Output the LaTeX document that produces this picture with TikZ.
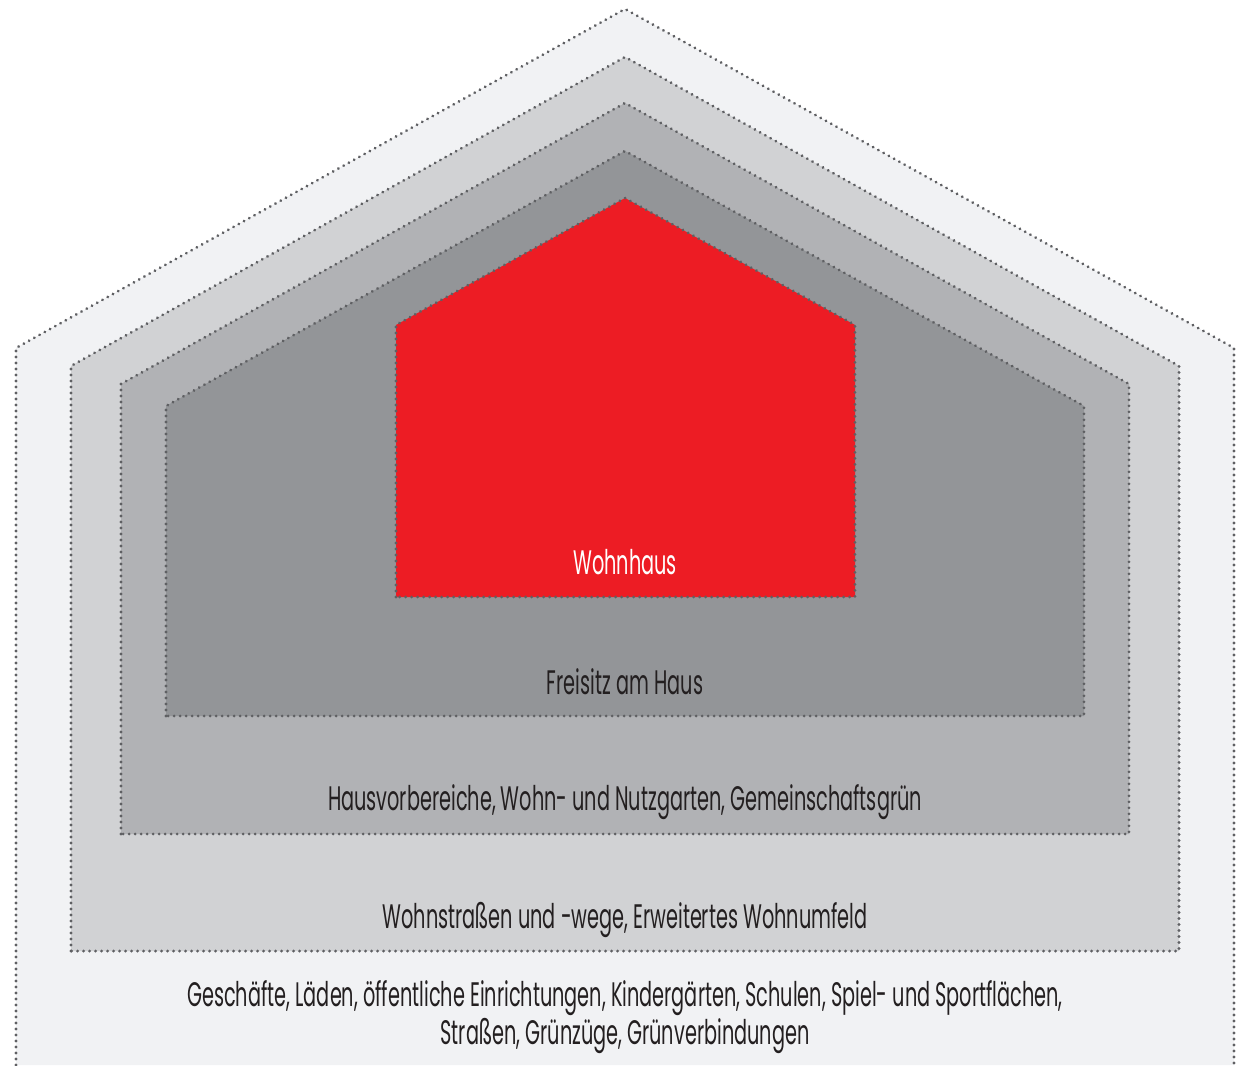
\documentclass[tikz,border=0pt]{standalone}
\usepackage{fontspec}
\usetikzlibrary{decorations.markings}
\setmainfont[FakeStretch=0.567]{Poppins}
\definecolor{zoneA}{HTML}{F1F2F4}
\definecolor{zoneB}{HTML}{D1D2D4}
\definecolor{zoneC}{HTML}{B1B2B5}
\definecolor{zoneD}{HTML}{939598}
\definecolor{houseRed}{HTML}{ED1C24}
\definecolor{dotLine}{HTML}{5F6063}
\definecolor{labelInk}{HTML}{231F20}
\tikzset{
  dotted border/.style={postaction={decorate, decoration={markings,
    mark=between positions 0 and 1 step 6pt with {\fill[dotLine] (0,0) circle (1.55pt);}}}},
  label/.style={text=labelInk, font=\fontsize{34}{38}\selectfont, inner sep=0pt,
    anchor=base},
}
\begin{document}
\begin{tikzpicture}[x=1pt,y=-1pt]
  \useasboundingbox (0,0) rectangle (1238,1065);
  % outermost zone: open at the bottom
  \fill[zoneA] (16,1065) -- (16,348) -- (625,9) -- (1234,348) -- (1234,1065) -- cycle;
  \path[dotted border] (16,1065) -- (16,348) -- (625,9) -- (1234,348) -- (1234,1065);
  % nested zones
  \path[fill=zoneB, dotted border] (71,951) -- (71,366) -- (625,57) -- (1179,366) -- (1179,951) -- cycle;
  \path[fill=zoneC, dotted border] (121,834) -- (121,384) -- (625,103) -- (1129,384) -- (1129,834) -- cycle;
  \path[fill=zoneD, dotted border] (166,716) -- (166,406) -- (625,151) -- (1084,406) -- (1084,716) -- cycle;
  \path[fill=houseRed, dotted border] (396,597) -- (396,325) -- (625,198) -- (855,325) -- (855,597) -- cycle;
  % labels
  \node[label, text=white] (haus) at (625,574) {Wohnhaus};
  \node[label] (freisitz) at (625,694) {Freisitz am Haus};
  \node[label] (garten) at (625,810) {Hausvorbereiche, Wohn- und Nutzgarten, Gemeinschaftsgrün};
  \node[label] (umfeld) at (625,928) {Wohnstraßen und -wege, Erweitertes Wohnumfeld};
  \node[label] (quartier1) at (625,1006) {Geschäfte, Läden, öffentliche Einrichtungen, Kindergärten, Schulen, Spiel- und Sportflächen,};
  \node[label] (quartier2) at (625,1044) {Straßen, Grünzüge, Grünverbindungen};
\end{tikzpicture}
\end{document}
